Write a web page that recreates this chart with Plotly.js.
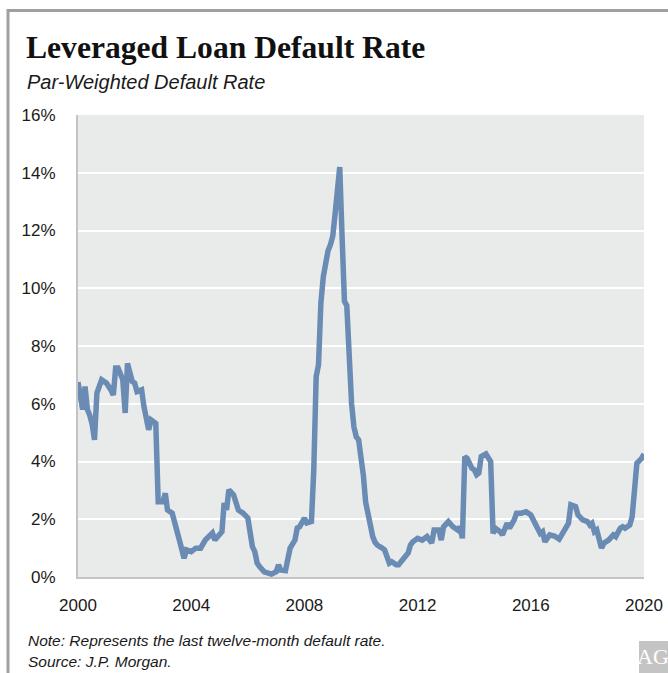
<!DOCTYPE html>
<html>
<head>
<meta charset="utf-8">
<script src="https://cdn.plot.ly/plotly-3.0.1.min.js"></script>
<style>
  html, body { margin: 0; padding: 0; background: #ffffff; }
  #chart { width: 668px; height: 673px; }
</style>
</head>
<body>
<div id="chart"></div>
<script>
// Par-weighted leveraged loan default rate (%)
const months = [
  "2000-01","2000-03","2000-04","2000-05","2000-06","2000-07","2000-08","2000-09","2000-11",
  "2001-01","2001-03","2001-04","2001-05","2001-06","2001-08","2001-09","2001-10","2001-12",
  "2002-01","2002-02","2002-04","2002-05","2002-07","2002-08","2002-10","2002-11",
  "2003-01","2003-02","2003-03","2003-05","2003-08","2003-10","2003-11",
  "2004-01","2004-03","2004-05","2004-07","2004-08","2004-10","2004-11",
  "2005-02","2005-03","2005-04","2005-05","2005-07","2005-09","2005-11",
  "2006-01","2006-03","2006-04","2006-05","2006-06","2006-08","2006-11",
  "2007-01","2007-02","2007-03","2007-05","2007-06","2007-07","2007-09","2007-10","2007-11",
  "2008-01","2008-02","2008-04","2008-05","2008-06","2008-07","2008-08","2008-09","2008-10","2008-11","2008-12",
  "2009-01","2009-02","2009-03","2009-04","2009-05","2009-06","2009-07","2009-08","2009-09","2009-10","2009-11","2009-12",
  "2010-01","2010-02","2010-03","2010-04","2010-05","2010-06","2010-07","2010-08","2010-10","2010-11",
  "2011-01","2011-02","2011-04","2011-05","2011-06","2011-08","2011-09","2011-10","2011-11",
  "2012-01","2012-03","2012-05","2012-07","2012-08","2012-10","2012-11","2012-12",
  "2013-02","2013-04","2013-06","2013-07","2013-08","2013-09","2013-10","2013-11","2013-12",
  "2014-01","2014-02","2014-03","2014-04","2014-06","2014-08","2014-09","2014-10","2014-12",
  "2015-01","2015-03","2015-04","2015-06","2015-07","2015-09","2015-11",
  "2016-01","2016-02","2016-05","2016-06","2016-07","2016-09","2016-11",
  "2017-01","2017-02","2017-04","2017-05","2017-06","2017-08","2017-09","2017-11",
  "2018-01","2018-02","2018-03","2018-04","2018-05","2018-07","2018-08","2018-10","2018-12",
  "2019-01","2019-03","2019-04","2019-05","2019-07","2019-08","2019-09","2019-10","2019-12",
  "2020-01"
];
const defaultRate = [
  6.75,5.8,6.6,5.8,5.6,5.3,4.75,6.37,6.83,
  6.72,6.48,6.3,7.24,7.24,6.83,5.68,7.4,6.77,
  6.72,6.42,6.48,5.9,5.1,5.44,5.32,2.61,
  2.61,2.9,2.32,2.21,1.28,0.65,0.94,
  0.88,1.0,1.0,1.28,1.35,1.52,1.28,
  1.57,2.56,2.32,3.02,2.84,2.32,2.21,
  2.04,1.05,0.88,0.48,0.36,0.18,0.1,
  0.18,0.42,0.24,0.22,0.76,1.0,1.28,1.7,1.74,
  2.04,1.87,1.92,3.71,6.94,7.35,9.5,10.4,10.9,11.3,11.5,
  11.8,12.6,13.4,14.2,11.8,9.55,9.4,7.3,6.0,5.2,4.85,4.75,
  4.2,3.5,2.6,2.1,1.74,1.4,1.2,1.1,1.0,0.94,
  0.48,0.53,0.42,0.42,0.53,0.7,0.83,1.11,1.22,
  1.34,1.28,1.4,1.18,1.63,1.63,1.28,1.74,
  1.92,1.74,1.63,1.74,1.34,4.17,4.11,3.9,3.77,
  3.71,3.54,3.6,4.17,4.26,4.0,1.51,1.69,1.57,
  1.46,1.86,1.69,1.98,2.21,2.21,2.26,
  2.15,1.98,1.51,1.57,1.22,1.46,1.42,
  1.31,1.46,1.8,1.86,2.5,2.44,2.15,1.98,
  1.92,1.8,1.86,1.57,1.63,1.0,1.17,1.28,1.46,
  1.4,1.69,1.74,1.69,1.8,2.09,3.13,3.94,4.11,
  4.26
];
const yTickVals = [0, 2, 4, 6, 8, 10, 12, 14, 16];
const yTickText = ["0%", "2%", "4%", "6%", "8%", "10%", "12%", "14%", "16%"];
const xTickVals = ["2000-01-01", "2004-01-01", "2008-01-01", "2012-01-01", "2016-01-01", "2020-01-01"];
const xTickText = ["2000", "2004", "2008", "2012", "2016", "2020"];

const titleText = "Leveraged Loan Default Rate";
const subtitleText = "Par-Weighted Default Rate";
const noteText = "Note: Represents the last twelve-month default rate.";
const sourceText = "Source: J.P. Morgan.";

// pixel geometry helpers (plot area: x 78..644, y 115..577)
const L = 78, R = 644, T = 115, B = 577, W = 668, H = 673;
const px = x => (x - L) / (R - L);
const py = y => (B - y) / (B - T);

const sans = "'Liberation Sans', Arial, sans-serif";

const trace = {
  x: months.map(m => m + "-01"),
  y: defaultRate,
  type: "scatter",
  mode: "lines",
  line: { color: "#6a8cb4", width: 5.5, shape: "linear" },
  hoverinfo: "x+y"
};

const layout = {
  width: W, height: H,
  margin: { l: L, r: W - R, t: T, b: H - B, pad: 0 },
  paper_bgcolor: "#ffffff",
  plot_bgcolor: "#e9ebeb",
  showlegend: false,
  xaxis: {
    type: "date",
    range: ["2000-01-01", "2020-01-01"],
    tickvals: xTickVals,
    ticktext: xTickText,
    showgrid: false,
    zeroline: false,
    showline: true,
    linecolor: "#c4c4c4",
    linewidth: 2,
    ticks: "outside",
    ticklen: 12,
    tickcolor: "rgba(0,0,0,0)",
    tickfont: { family: sans, size: 17, color: "#1a1a1a" },
    fixedrange: true
  },
  yaxis: {
    range: [0, 16],
    tickvals: yTickVals,
    ticktext: yTickText,
    showgrid: true,
    gridcolor: "#ffffff",
    gridwidth: 2,
    zeroline: false,
    showline: true,
    linecolor: "#c4c4c4",
    linewidth: 2,
    ticks: "outside",
    ticklen: 17,
    tickcolor: "rgba(0,0,0,0)",
    tickfont: { family: sans, size: 17, color: "#1a1a1a" },
    fixedrange: true
  },
  shapes: [
    // outer frame: top and left grey rules
    { type: "line", xref: "paper", yref: "paper", x0: px(7), x1: px(668), y0: py(10.5), y1: py(10.5),
      line: { color: "#a0a0a0", width: 3 } },
    { type: "line", xref: "paper", yref: "paper", x0: px(8), x1: px(8), y0: py(9), y1: py(673),
      line: { color: "#a0a0a0", width: 3 } },
    // logo box
    { type: "rect", xref: "paper", yref: "paper", x0: px(639), x1: px(668), y0: py(673), y1: py(641),
      fillcolor: "#c4c4c4", line: { width: 0 } }
  ],
  annotations: [
    { text: "<b>" + titleText + "</b>", xref: "paper", yref: "paper", x: px(24), y: py(47),
      xanchor: "left", yanchor: "middle", showarrow: false,
      font: { family: "'Liberation Serif', 'Times New Roman', serif", size: 31.6, color: "#111111" } },
    { text: "<i>" + subtitleText + "</i>", xref: "paper", yref: "paper", x: px(25), y: py(82),
      xanchor: "left", yanchor: "middle", showarrow: false,
      font: { family: sans, size: 20, color: "#1a1a1a" } },
    { text: "<i>" + noteText + "</i>", xref: "paper", yref: "paper", x: px(26), y: py(640),
      xanchor: "left", yanchor: "middle", showarrow: false,
      font: { family: sans, size: 15.5, color: "#1a1a1a" } },
    { text: "<i>" + sourceText + "</i>", xref: "paper", yref: "paper", x: px(26), y: py(661),
      xanchor: "left", yanchor: "middle", showarrow: false,
      font: { family: sans, size: 15.5, color: "#1a1a1a" } },
    { text: "AG", xref: "paper", yref: "paper", x: px(653.5), y: py(656),
      xanchor: "center", yanchor: "middle", showarrow: false,
      font: { family: "'Liberation Serif', 'Times New Roman', serif", size: 22, color: "#ffffff" } }
  ]
};

Plotly.newPlot("chart", [trace], layout, { staticPlot: true, displayModeBar: false });
</script>
</body>
</html>
